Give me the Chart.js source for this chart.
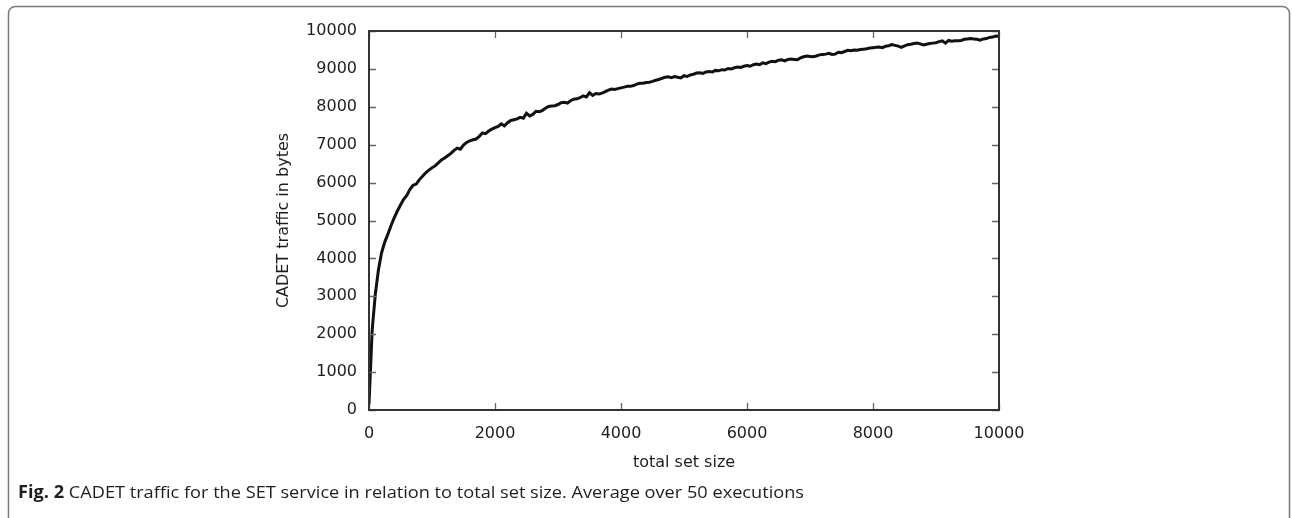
<!DOCTYPE html>
<html>
<head>
<meta charset="utf-8">
<script src="https://cdn.jsdelivr.net/npm/chart.js@4/dist/chart.umd.min.js"></script>
<style>
  html, body { margin: 0; padding: 0; background: #fff; }
  #chart { display: block; }
</style>
</head>
<body>
<canvas id="chart" width="1292" height="518"></canvas>
<script>
// total set size (x) and mean CADET traffic in bytes (y), averaged over 50 runs
const setSizes = [
  0, 50, 100, 150, 200, 250, 300, 350, 400, 450, 500, 550, 600, 650, 700, 750, 800, 850, 900, 950,
  1000, 1050, 1100, 1150, 1200, 1250, 1300, 1350, 1400, 1450, 1500, 1550, 1600, 1650, 1700, 1750, 1800, 1850, 1900, 1950,
  2000, 2050, 2100, 2150, 2200, 2250, 2300, 2350, 2400, 2450, 2500, 2550, 2600, 2650, 2700, 2750, 2800, 2850, 2900, 2950,
  3000, 3050, 3100, 3150, 3200, 3250, 3300, 3350, 3400, 3450, 3500, 3550, 3600, 3650, 3700, 3750, 3800, 3850, 3900, 3950,
  4000, 4050, 4100, 4150, 4200, 4250, 4300, 4350, 4400, 4450, 4500, 4550, 4600, 4650, 4700, 4750, 4800, 4850, 4900, 4950,
  5000, 5050, 5100, 5150, 5200, 5250, 5300, 5350, 5400, 5450, 5500, 5550, 5600, 5650, 5700, 5750, 5800, 5850, 5900, 5950,
  6000, 6050, 6100, 6150, 6200, 6250, 6300, 6350, 6400, 6450, 6500, 6550, 6600, 6650, 6700, 6750, 6800, 6850, 6900, 6950,
  7000, 7050, 7100, 7150, 7200, 7250, 7300, 7350, 7400, 7450, 7500, 7550, 7600, 7650, 7700, 7750, 7800, 7850, 7900, 7950,
  8000, 8050, 8100, 8150, 8200, 8250, 8300, 8350, 8400, 8450, 8500, 8550, 8600, 8650, 8700, 8750, 8800, 8850, 8900, 8950,
  9000, 9050, 9100, 9150, 9200, 9250, 9300, 9350, 9400, 9450, 9500, 9550, 9600, 9650, 9700, 9750, 9800, 9850, 9900, 9950,
  10000
];
const trafficBytes = [
  150, 2100, 3050, 3700, 4150, 4430, 4640, 4870, 5070, 5250, 5410, 5560, 5660, 5820, 5930, 5960, 6080, 6170, 6260, 6330,
  6390, 6440, 6520, 6600, 6650, 6710, 6770, 6850, 6910, 6880, 6990, 7060, 7100, 7130, 7150, 7220, 7310, 7290, 7360, 7410,
  7450, 7480, 7550, 7500, 7580, 7640, 7660, 7680, 7720, 7700, 7830, 7760, 7800, 7880, 7870, 7900, 7960, 8010, 8020, 8030,
  8060, 8110, 8120, 8100, 8160, 8200, 8210, 8240, 8290, 8260, 8370, 8300, 8350, 8340, 8360, 8400, 8440, 8470, 8460, 8480,
  8500, 8520, 8540, 8540, 8560, 8600, 8620, 8620, 8640, 8650, 8670, 8700, 8720, 8750, 8780, 8790, 8770, 8800, 8780, 8760,
  8820, 8800, 8840, 8860, 8890, 8900, 8880, 8920, 8930, 8920, 8960, 8950, 8980, 8970, 9010, 9000, 9030, 9050, 9040, 9070,
  9090, 9070, 9110, 9130, 9110, 9160, 9140, 9180, 9200, 9190, 9230, 9240, 9210, 9250, 9260, 9250, 9240, 9290, 9320, 9340,
  9330, 9320, 9340, 9370, 9380, 9390, 9410, 9380, 9390, 9440, 9430, 9460, 9490, 9480, 9500, 9490, 9510, 9520, 9530, 9550,
  9560, 9570, 9580, 9560, 9600, 9610, 9640, 9620, 9600, 9570, 9610, 9640, 9650, 9670, 9680, 9660, 9630, 9650, 9670, 9680,
  9690, 9720, 9740, 9680, 9750, 9730, 9740, 9740, 9750, 9780, 9790, 9800, 9790, 9780, 9760, 9790, 9800, 9830, 9840, 9870,
  9860
];
const xTicks = [0, 2000, 4000, 6000, 8000, 10000];
const yTicks = [0, 1000, 2000, 3000, 4000, 5000, 6000, 7000, 8000, 9000, 10000];
const xTitle = "total set size";
const yTitle = "CADET traffic in bytes";
const captionLead = "Fig. 2";
const captionRest = " CADET traffic for the SET service in relation to total set size. Average over 50 executions";

const labelFont = "16px 'DejaVu Sans', sans-serif";
const inkColor = "#1e1e1e";

// gnuplot-like box with inward ticks on all four sides, axis titles and the figure caption
const figureDecor = {
  id: "figureDecor",
  afterDraw(chart) {
    const { ctx, chartArea: a, scales } = chart;
    const tick = 7;
    ctx.save();

    // outer rounded frame (open at the bottom)
    ctx.strokeStyle = "#7a7a7a";
    ctx.lineWidth = 1.5;
    const r = 7;
    ctx.beginPath();
    ctx.moveTo(8.5, 518);
    ctx.lineTo(8.5, 6.5 + r);
    ctx.arcTo(8.5, 6.5, 8.5 + r, 6.5, r);
    ctx.lineTo(1289.5 - r, 6.5);
    ctx.arcTo(1289.5, 6.5, 1289.5, 6.5 + r, r);
    ctx.lineTo(1289.5, 518);
    ctx.stroke();

    // tick marks
    ctx.strokeStyle = "#666";
    ctx.lineWidth = 1.3;
    ctx.beginPath();
    xTicks.forEach((v) => {
      const x = Math.round(scales.x.getPixelForValue(v)) + 0.5;
      ctx.moveTo(x, a.bottom); ctx.lineTo(x, a.bottom - tick);
      ctx.moveTo(x, a.top); ctx.lineTo(x, a.top + tick);
    });
    yTicks.forEach((v) => {
      const y = Math.round(scales.y.getPixelForValue(v)) + 0.5;
      ctx.moveTo(a.left, y); ctx.lineTo(a.left + tick, y);
      ctx.moveTo(a.right, y); ctx.lineTo(a.right - tick, y);
    });
    ctx.stroke();

    // plot border
    ctx.strokeStyle = "#333";
    ctx.lineWidth = 2;
    ctx.strokeRect(a.left, a.top, a.right - a.left, a.bottom - a.top);

    // axis titles
    ctx.fillStyle = inkColor;
    ctx.font = labelFont;
    ctx.textAlign = "center";
    ctx.textBaseline = "middle";
    ctx.fillText(xTitle, (a.left + a.right) / 2, 463);
    ctx.save();
    ctx.translate(284, (a.top + a.bottom) / 2);
    ctx.rotate(-Math.PI / 2);
    ctx.fillText(yTitle, 0, 0);
    ctx.restore();

    // caption: bold lead followed by regular text, squeezed to the column width
    ctx.textAlign = "left";
    ctx.textBaseline = "alphabetic";
    const bold = "bold 17px 'Open Sans', sans-serif";
    const reg = "17px 'Open Sans', sans-serif";
    ctx.font = bold;
    const w1 = ctx.measureText(captionLead).width;
    ctx.font = reg;
    const w2 = ctx.measureText(captionRest).width;
    const sx = 786 / (w1 + w2);
    ctx.save();
    ctx.translate(18, 498);
    ctx.scale(sx, 1);
    ctx.font = bold;
    ctx.fillText(captionLead, 0, 0);
    ctx.font = reg;
    ctx.fillText(captionRest, w1, 0);
    ctx.restore();

    ctx.restore();
  },
};

const tickFont = { family: "'DejaVu Sans', sans-serif", size: 16 };

new Chart(document.getElementById("chart"), {
  type: "line",
  data: {
    datasets: [
      {
        data: setSizes.map((s, i) => ({ x: s, y: trafficBytes[i] })),
        borderColor: "#111",
        borderWidth: 3,
        pointRadius: 0,
        tension: 0,
        fill: false,
      },
    ],
  },
  plugins: [figureDecor],
  options: {
    responsive: false,
    animation: false,
    events: [],
    layout: { padding: { left: 0, top: 31, right: 293, bottom: 0 } },
    plugins: { legend: { display: false }, tooltip: { enabled: false } },
    scales: {
      x: {
        type: "linear",
        min: 0,
        max: 10000,
        afterBuildTicks: (s) => { s.ticks = xTicks.map((v) => ({ value: v })); },
        afterFit: (s) => { s.height = 108; },
        grid: { display: false, drawTicks: false },
        border: { display: false },
        ticks: { color: inkColor, font: tickFont, padding: 14, maxRotation: 0, callback: (v) => String(v) },
      },
      y: {
        type: "linear",
        min: 0,
        max: 10000,
        afterBuildTicks: (s) => { s.ticks = yTicks.map((v) => ({ value: v })); },
        afterFit: (s) => { s.width = 369; },
        grid: { display: false, drawTicks: false },
        border: { display: false },
        ticks: { color: inkColor, font: tickFont, padding: 12, callback: (v) => String(v) },
      },
    },
  },
});
</script>
</body>
</html>
